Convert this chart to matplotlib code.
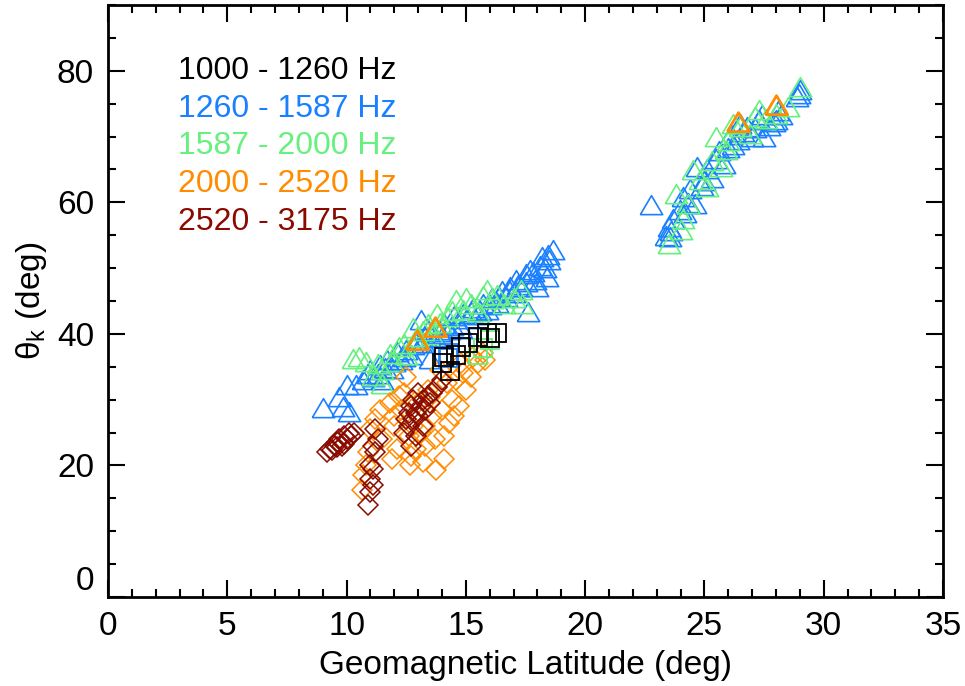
import matplotlib
matplotlib.use("Agg")
import matplotlib.pyplot as plt

# --- data (geomagnetic latitude, theta_k) ---
# 1260-1587 Hz, triangles
blue_tri_x = [9.0, 9.7, 9.85, 10.0, 10.1, 10.4, 10.7, 10.9, 11.1, 11.4, 11.5, 11.7, 11.9, 12.1, 12.3,
              12.5, 12.7, 12.9, 13.1, 13.3, 13.4, 13.5, 13.7, 13.9, 14.1, 14.3, 14.5, 14.7, 14.9, 15.1,
              15.3, 15.5, 15.7, 15.9, 16.1, 16.3, 16.5, 16.7, 16.85, 17.0, 17.1, 17.3, 17.5, 17.6, 17.7,
              17.9, 18.0, 18.2, 18.3, 18.4, 18.5, 18.65,
              11.0, 11.3, 11.6, 12.0, 12.4, 12.8, 13.2, 13.6, 14.0, 14.4, 14.8, 15.2, 15.6, 16.0,
              16.4, 16.8, 17.2, 17.5, 17.8, 18.1, 18.45,
              22.75, 23.4, 23.5, 23.55, 23.7, 23.98, 24.1, 24.3, 24.6, 24.7, 24.9, 25.1, 25.3, 25.5,
              25.8, 26.0, 26.2, 26.4, 26.6, 26.8, 27.0, 27.3, 27.5, 27.7, 28.0, 28.2, 28.9, 29.0,
              23.6, 24.2, 24.4, 25.0, 25.6, 26.1, 26.5, 27.1, 27.4, 27.9, 28.1, 28.95]
blue_tri_y = [28.3, 30.0, 28.4, 31.8, 27.6, 31.7, 32.5, 33.5, 33.0, 34.8, 32.6, 35.6, 34.2, 36.8, 35.5,
              37.1, 36.4, 38.2, 41.7, 39.0, 40.1, 35.7, 38.9, 39.8, 41.0, 40.2, 42.3, 41.1, 42.6, 41.8,
              43.5, 42.4, 44.1, 43.2, 45.0, 44.3, 46.0, 45.2, 46.7, 45.8, 47.7, 46.6, 48.6, 42.9, 49.3,
              47.8, 46.7, 51.2, 49.6, 48.2, 50.8, 52.3,
              34.0, 33.4, 34.4, 35.3, 36.0, 37.8, 38.2, 39.5, 39.0, 40.8, 40.3, 42.9, 43.0, 43.9,
              45.2, 46.2, 47.0, 47.5, 49.0, 49.8, 51.6,
              59.1, 54.5, 55.8, 54.3, 57.0, 58.4, 60.3, 59.5, 59.3, 64.9, 62.0, 64.6, 63.3, 66.2,
              65.4, 67.8, 68.3, 69.0, 70.2, 71.0, 69.5, 72.0, 69.5, 71.2, 72.0, 72.8, 75.5, 76.6,
              55.2, 57.9, 61.5, 62.8, 67.3, 69.8, 71.5, 70.8, 72.8, 71.8, 73.5, 76.0]

# 1587-2000 Hz, triangles
green_tri_x = [10.27, 10.5, 10.8, 11.1, 11.5, 11.5, 11.9, 12.2, 12.5, 12.95, 13.2, 13.6, 13.9, 14.2,
               14.6, 14.9, 15.2, 15.5, 15.9, 16.3, 16.6, 17.0, 17.3, 17.35,
               11.3, 11.8, 12.4, 12.8, 13.4, 13.8, 14.4, 15.0, 15.7, 16.1,
               23.5, 23.8, 24.0, 24.3, 24.5, 24.8, 25.1, 25.5, 25.7, 25.9, 26.2, 26.5, 26.9,
               27.3, 27.6, 28.0, 28.5, 29.0, 24.1, 25.3, 26.0, 27.1]
green_tri_y = [35.7, 36.0, 35.3, 33.2, 34.0, 31.9, 35.2, 37.5, 36.3, 39.1, 40.0, 39.4, 41.2, 42.1,
               44.7, 43.2, 44.1, 42.8, 46.2, 45.5, 44.1, 45.0, 46.2, 44.1,
               35.0, 36.5, 38.0, 40.5, 41.0, 42.5, 43.0, 45.0, 45.3, 44.9,
               53.2, 60.8, 55.3, 59.3, 64.4, 63.0, 61.9, 69.5, 64.9, 67.5, 71.4, 71.0, 70.0,
               73.6, 72.2, 73.0, 74.0, 77.1, 57.0, 65.8, 68.8, 72.5]

# 2000-2520 Hz, triangles
orange_tri_x = [12.95, 13.7, 26.4, 28.0]
orange_tri_y = [38.6, 40.6, 71.8, 74.3]

# 2000-2520 Hz, diamonds
orange_dia_x = [10.65, 10.7, 10.8, 10.9, 11.0, 11.2, 11.4, 11.5, 11.8, 12.0, 12.1, 12.3, 12.4,
                12.6, 12.65, 12.8, 12.9, 13.0, 13.1, 13.2, 13.3, 13.4, 13.5, 13.6, 13.7, 13.75,
                13.8, 14.0, 14.1, 14.2, 14.3, 14.4, 14.6, 14.7, 14.9, 15.0, 15.2, 15.5, 15.7, 15.8,
                11.9, 12.2, 12.5, 13.9, 14.1, 14.5, 12.0, 12.7, 13.3, 14.8, 15.3]
orange_dia_y = [16.3, 18.5, 20.0, 22.0, 25.5, 27.0, 28.4, 24.0, 29.5, 26.0, 22.5, 28.5, 31.0,
                24.5, 20.0, 26.0, 22.5, 29.5, 25.0, 20.5, 23.0, 31.5, 30.4, 27.5, 24.0, 19.3,
                31.9, 28.5, 21.0, 32.5, 26.5, 30.0, 33.0, 29.0, 34.0, 31.5, 33.5, 35.6, 37.1, 36.0,
                21.0, 30.5, 33.5, 34.5, 24.5, 27.5, 27.5, 21.5, 26.0, 35.5, 36.5]

# 2520-3175 Hz, diamonds
red_dia_x = [9.2, 9.3, 9.4, 9.5, 9.6, 9.6, 9.7, 9.8, 9.9, 9.9, 10.0, 10.1, 10.2, 10.3,
             10.9, 11.0, 11.0, 11.0, 11.1, 11.1, 11.1, 11.2, 11.2, 11.3,
             12.4, 12.5, 12.6, 12.6, 12.7, 12.7, 12.8, 12.8, 12.9, 12.9, 13.0, 13.0, 13.1,
             13.2, 13.2, 13.3, 13.4, 13.5, 13.6, 13.8, 14.0]
red_dia_y = [22.0, 22.5, 22.3, 23.0, 23.5, 22.8, 24.0, 23.0, 24.5, 23.3, 24.0, 25.0, 24.5, 25.0,
             14.0, 16.0, 18.0, 20.0, 19.5, 23.0, 17.0, 22.0, 25.5, 24.0,
             25.0, 27.0, 28.0, 26.0, 29.0, 23.0, 30.0, 27.0, 28.0, 24.5, 27.5, 31.0, 29.0,
             30.0, 26.0, 28.5, 30.5, 29.5, 31.0, 32.0, 33.0]

# squares
black_sq_x = [14.0, 14.1, 14.35, 14.6, 14.8, 15.1, 15.5, 15.9, 16.0, 16.3]
black_sq_y = [35.5, 36.5, 34.3, 36.8, 38.0, 38.6, 39.5, 40.2, 39.3, 40.2]
blue_sq_x = [14.25, 14.3]
blue_sq_y = [36.3, 37.1]
green_sq_x = [15.5, 15.7, 16.0]
green_sq_y = [36.8, 37.9, 39.1]

labels = ['1000 - 1260 Hz', '1260 - 1587 Hz', '1587 - 2000 Hz', '2000 - 2520 Hz', '2520 - 3175 Hz']
colors = ['#000000', '#1a80ff', '#66f07f', '#ff8c00', '#8b0a00']

plt.rcParams['font.family'] = ['Liberation Sans', 'DejaVu Sans']
plt.rcParams['mathtext.fontset'] = 'custom'
plt.rcParams['mathtext.rm'] = 'Liberation Sans'

fig = plt.figure(figsize=(9.65, 6.86), dpi=100)
ax = fig.add_axes([108 / 965, 1 - 597 / 686, 835 / 965, 592 / 686])

tri = [(-1, -0.55), (1, -0.55), (0, 1.15), (-1, -0.55)]
kw = dict(linestyle='none', markerfacecolor='none')
ax.plot(blue_tri_x, blue_tri_y, marker=tri, ms=18.5, mec=colors[1], mew=1.2, **kw)
ax.plot(green_tri_x, green_tri_y, marker=tri, ms=18.5, mec=colors[2], mew=1.2, **kw)
ax.plot(orange_tri_x, orange_tri_y, marker=tri, ms=18.5, mec=colors[3], mew=2.0, **kw)
ax.plot(orange_dia_x, orange_dia_y, marker='D', ms=10, mec=colors[3], mew=1.1, **kw)
ax.plot(red_dia_x, red_dia_y, marker='D', ms=10, mec=colors[4], mew=1.1, **kw)
ax.plot(blue_sq_x, blue_sq_y, marker='s', ms=13, mec=colors[1], mew=1.3, **kw)
ax.plot(green_sq_x, green_sq_y, marker='s', ms=13, mec=colors[2], mew=1.3, **kw)
ax.plot(black_sq_x, black_sq_y, marker='s', ms=13, mec=colors[0], mew=1.3, **kw)

ax.set_xlim(0, 35)
ax.set_ylim(0, 90)
ax.set_xticks(range(0, 36, 5))
ax.set_xticks(range(0, 36, 1), minor=True)
ax.set_yticks(range(0, 81, 20))
ax.set_yticks(range(0, 91, 5), minor=True)
ax.tick_params(which='both', direction='in', top=True, right=True, width=1.5, labelsize=24, pad=10)
ax.tick_params(which='major', length=12)
ax.tick_params(which='minor', length=6)
ax.get_yticklabels()[0].set_va('bottom')
for s in ax.spines.values():
    s.set_linewidth(2)

ax.set_xlabel('Geomagnetic Latitude (deg)', fontsize=24, labelpad=6)
ax.set_ylabel(r'$\mathregular{\theta_k}$ (deg)', fontsize=24, labelpad=6)

for i, (lab, c) in enumerate(zip(labels, colors)):
    ax.text(0.0838, 0.8745 - i * 0.0635, lab, color=c, fontsize=23, va='baseline', transform=ax.transAxes)

fig.savefig('out.png', dpi=100)
